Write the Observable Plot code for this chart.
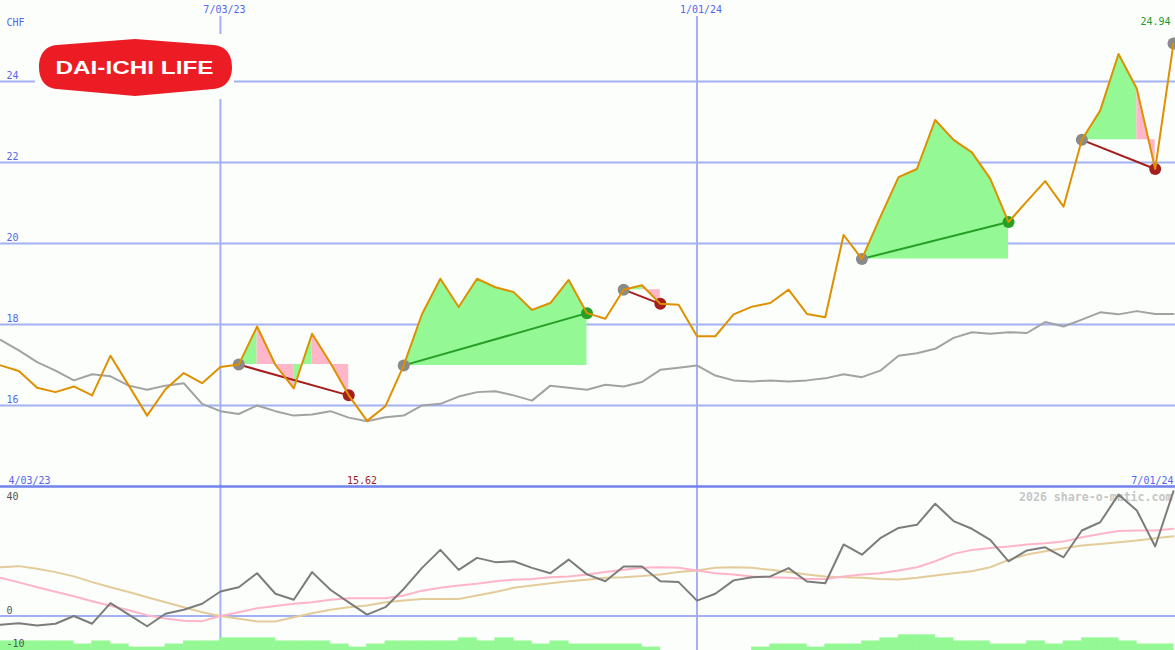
<!DOCTYPE html>
<html><head><meta charset="utf-8">
<script src="https://cdn.jsdelivr.net/npm/d3@7"></script>
<script src="https://cdn.jsdelivr.net/npm/@observablehq/plot@0.6"></script>
<style>
html,body{margin:0;padding:0;background:#fbfefb;}
#wrap{position:relative;width:1175px;height:650px;overflow:hidden;background:#fbfefb;}
#topPanel{position:absolute;left:0;top:0;}
#bottomPanel{position:absolute;left:0;top:484px;}
#logo{position:absolute;left:35px;top:34px;width:199px;height:65px;background:#fbfefb;}
svg{display:block;}
</style></head><body>
<div id="wrap">
  <div id="topPanel"></div>
  <div id="bottomPanel"></div>
  <div id="logo"><svg width="199" height="65" viewBox="0 0 199 65">
    <path d="M22 11 L100 5 L178 11 C192 12 197 22 197 33 C197 44 192 54 178 55 L100 62 L22 55 C9 54 4 44 4 33 C4 22 9 12 22 11 Z" fill="#ec1c24"/>
    <text x="99.5" y="40" text-anchor="middle" fill="#ffffff" font-family="Liberation Sans, Arial, sans-serif" font-weight="bold" font-size="19" textLength="158" lengthAdjust="spacingAndGlyphs">DAI-ICHI LIFE</text>
  </svg></div>
</div>
<script>
// ---- data (weekly, index 0 = first week) ----
const price = [16.99,16.85,16.44,16.33,16.47,16.25,17.23,16.49,15.75,16.40,16.80,16.55,16.95,17.01,17.95,17.00,16.42,17.77,17.05,16.25,15.62,15.98,16.99,18.26,19.13,18.43,19.13,18.92,18.80,18.36,18.53,19.10,18.28,18.14,18.86,18.97,18.51,18.49,17.71,17.71,18.25,18.44,18.53,18.86,18.26,18.18,20.21,19.62,20.65,21.64,21.84,23.05,22.56,22.25,21.60,20.53,21.04,21.54,20.91,22.56,23.28,24.68,23.82,21.84,24.94];
const bench = [17.62,17.36,17.07,16.86,16.62,16.77,16.72,16.49,16.39,16.49,16.55,16.04,15.86,15.79,16.00,15.86,15.75,15.78,15.86,15.70,15.61,15.71,15.75,16.00,16.04,16.22,16.33,16.35,16.25,16.12,16.49,16.44,16.39,16.51,16.47,16.58,16.88,16.93,16.99,16.74,16.62,16.59,16.62,16.59,16.62,16.67,16.77,16.70,16.86,17.23,17.29,17.40,17.67,17.81,17.77,17.81,17.79,18.06,17.95,18.12,18.30,18.25,18.33,18.26,18.26];
const momentum = [-3.1,-2.5,-3.3,-2.7,0,-2.7,4.5,0.5,-3.6,0.8,2.2,4.3,8.6,10.1,15.0,7.8,5.7,15.4,9.2,4.8,0.5,3.1,9.5,16.9,23.2,16.2,20.4,18.9,19.2,16.9,15.0,19.8,14.6,12.2,17.4,17.4,12.2,11.9,5.4,7.8,12.5,13.6,13.9,16.8,12.1,11.5,25.1,21.5,27.3,30.9,32.0,39.4,33.3,30.6,26.7,19.2,23.0,24.1,20.6,30.0,32.9,42.6,37.0,24.4,43.8];
const avgFast = [13.4,11.8,10.1,8.5,6.9,5.2,3.6,2.0,0.3,-0.9,-1.7,-1.8,0,1.3,2.7,3.5,4.3,4.8,5.7,6.2,6.2,6.2,7.2,8.9,9.9,10.7,11.3,12.2,12.7,13.0,13.6,13.9,14.6,15.4,16.2,16.9,17.1,16.9,16.0,15.0,14.6,13.9,13.6,13.4,13.0,13.0,13.9,14.6,15.0,16.0,17.1,19.2,21.8,23.2,23.9,24.4,25.1,25.5,26.1,27.6,28.8,29.8,30.0,30.0,30.6];
const avgSlow = [17.1,17.5,16.6,15.4,13.9,11.9,10.1,8.4,6.6,4.8,3.1,1.3,0,-1.0,-1.9,-1.9,-0.4,1.0,2.2,3.1,3.7,4.8,5.4,6.0,6.0,6.0,7.2,8.4,9.9,10.7,11.5,12.2,12.7,13.4,13.6,14.0,14.6,15.4,16.0,16.9,17.1,16.9,16.2,15.4,14.6,13.9,13.6,13.4,13.0,12.8,13.4,14.2,15.0,15.7,17.1,19.7,21.6,22.7,23.8,24.7,25.3,25.9,26.5,27.3,28.0];
const volume = [3,3,3,3,2,3,2,1,1,2,3,3,4,4,4,3,3,3,2,1,2,3,3,3,3,4,3,4,3,2,3,2,2,2,2,1,0,0,0,0,0,1,2,2,1,2,2,3,4,5,5,4,3,3,2,2,3,2,3,4,4,3,2,2];
const tradeStart = [13,22,34,47,59];
const tradeEnd = [19,32,36,55,63];
const openTrade = [64];
const fallingSegs = [14,15,17,18,35,62];
const gridValues = [16,18,20,22,24];
const dateTicks = [12,38];
const dateTickLabels = ["7/03/23","1/01/24"];
const startLabel = "4/03/23";
const endLabel = "7/01/24";
const currency = "CHF";
const lowTicks = [40,0];
const lowTickBottom = [-10];
const watermark = "2026 share-o-matic.com";

// ---- styles ----
const GRID = "#a3b1f3", SEP = "#7282ee", BLUE = "#5566ee";
const GREENF = "#94f894", PINKF = "#ffb6c8";
const FONT = "DejaVu Sans Mono";
const xScale = {domain:[0,64], range:[0,1173], axis:null};
const volBase = -12.1, volStep = 1.07;

const rows = price.map((p,i)=>({i, p, b:bench[i], m:momentum[i], f:avgFast[i], s:avgSlow[i]}));
const trades = tradeStart.map((s,k)=>{const e=tradeEnd[k];return {s,e,sv:price[s],ev:price[e],win:price[e]>price[s]};});
// shading rows: consecutive segments of the same colour share one polygon (run)
const shadeRows = [];
let run = 0;
trades.forEach(t=>{
  let prevUp = null;
  for(let i=t.s;i<t.e;i++){
    const up = !fallingSegs.includes(i);
    if(up!==prevUp){
      run++;
      shadeRows.push({run,x:i,y:price[i],base:t.sv,up});
    }
    shadeRows.push({run,x:i+1,y:price[i+1],base:t.sv,up});
    prevUp = up;
  }
});
const minIdx = d3.minIndex(price);
const lastIdx = price.length-1;
const txt = {fontFamily:FONT, fontSize:10};

const topChart = Plot.plot({
  width:1175, height:487, margin:0,
  x:xScale,
  y:{domain:[13.975,26], range:[487,0], axis:null},
  style:{background:"transparent"},
  marks:[
    Plot.ruleY(gridValues,{stroke:GRID, strokeWidth:2}),
    Plot.ruleX(dateTicks,{stroke:GRID, strokeWidth:2, insetTop:16}),
    Plot.areaY(shadeRows.filter(d=>d.up),{x:"x", y1:"base", y2:"y", z:"run", fill:GREENF}),
    Plot.areaY(shadeRows.filter(d=>!d.up),{x:"x", y1:"base", y2:"y", z:"run", fill:PINKF}),
    Plot.line(rows,{x:"i", y:"b", stroke:"#a2a2a2", strokeWidth:2}),
    Plot.link(trades.filter(d=>d.win),{x1:"s", y1:"sv", x2:"e", y2:"ev", stroke:"#25a025", strokeWidth:2}),
    Plot.link(trades.filter(d=>!d.win),{x1:"s", y1:"sv", x2:"e", y2:"ev", stroke:"#a51e1e", strokeWidth:2}),
    Plot.dot(trades,{x:"s", y:"sv", r:6, fill:"#8a8a8a"}),
    Plot.dot(openTrade,{x:d=>d, y:d=>price[d], r:6, fill:"#8a8a8a"}),
    Plot.dot(trades.filter(d=>d.win),{x:"e", y:"ev", r:6, fill:"#25a025"}),
    Plot.dot(trades.filter(d=>!d.win),{x:"e", y:"ev", r:6, fill:"#a51e1e"}),
    Plot.line(rows,{x:"i", y:"p", stroke:"#de9100", strokeWidth:2}),
    Plot.text(gridValues,{y:d=>d, text:d=>String(d), frameAnchor:"left", dx:6, dy:-2.5, lineAnchor:"bottom", textAnchor:"start", fill:BLUE, ...txt}),
    Plot.text([currency],{text:d=>d, frameAnchor:"top-left", dx:6, dy:25, lineAnchor:"bottom", textAnchor:"start", fill:BLUE, ...txt}),
    Plot.text(dateTicks,{x:d=>d, text:(d,k)=>dateTickLabels[k], frameAnchor:"top", dx:4, dy:12.7, lineAnchor:"bottom", fill:BLUE, ...txt}),
    Plot.text([lastIdx],{x:d=>d, y:d=>price[d], text:d=>price[d].toFixed(2), textAnchor:"end", dx:-3, dy:-18.3, lineAnchor:"bottom", fill:"#22992a", ...txt}),
    Plot.text([minIdx],{x:d=>d, text:d=>price[d].toFixed(2), frameAnchor:"bottom", dx:-5, dy:-3.7, lineAnchor:"bottom", fill:"#a51e1e", ...txt}),
    Plot.text([startLabel],{text:d=>d, frameAnchor:"bottom-left", dx:8, dy:-3.7, lineAnchor:"bottom", textAnchor:"start", fill:BLUE, ...txt}),
    Plot.text([endLabel],{text:d=>d, frameAnchor:"bottom-right", dx:-2, dy:-3.7, lineAnchor:"bottom", textAnchor:"end", fill:BLUE, ...txt})
  ]
});
document.getElementById("topPanel").appendChild(topChart);

const vol = volume.map((v,i)=>({i,v})).filter(d=>d.v>0);
const bottomChart = Plot.plot({
  width:1175, height:166, margin:0,
  x:xScale,
  y:{domain:[-12.1,46.14], range:[166,0], axis:null},
  style:{background:"transparent"},
  marks:[
    Plot.ruleY([0],{stroke:GRID, strokeWidth:2}),
    Plot.ruleX(dateTicks,{stroke:GRID, strokeWidth:2}),
    Plot.frame({anchor:"top", stroke:SEP, strokeWidth:2.5, insetTop:2}),
    Plot.rect(vol,{x1:"i", x2:d=>d.i+1, y1:()=>volBase, y2:d=>volBase+d.v*volStep, fill:GREENF, stroke:GREENF, strokeWidth:0.6}),
    Plot.text([watermark],{text:d=>d, frameAnchor:"top-right", dx:-3, dy:16.5, lineAnchor:"bottom", textAnchor:"end", fill:"#c6c6c6", fontFamily:FONT, fontSize:11.6, fontWeight:"bold"}),
    Plot.line(rows,{x:"i", y:"s", stroke:"#e4cc9a", strokeWidth:2}),
    Plot.line(rows,{x:"i", y:"f", stroke:"#ffb4c8", strokeWidth:2}),
    Plot.line(rows,{x:"i", y:"m", stroke:"#7c7c7c", strokeWidth:2}),
    Plot.text(lowTicks,{y:d=>d, text:d=>String(d), frameAnchor:"left", dx:6, dy:-2, lineAnchor:"bottom", textAnchor:"start", fill:"#555555", ...txt}),
    Plot.text(lowTickBottom,{y:d=>d, text:d=>String(d), frameAnchor:"left", dx:6, dy:2, lineAnchor:"bottom", textAnchor:"start", fill:"#555555", ...txt})
  ]
});
document.getElementById("bottomPanel").appendChild(bottomChart);
</script>
</body></html>
